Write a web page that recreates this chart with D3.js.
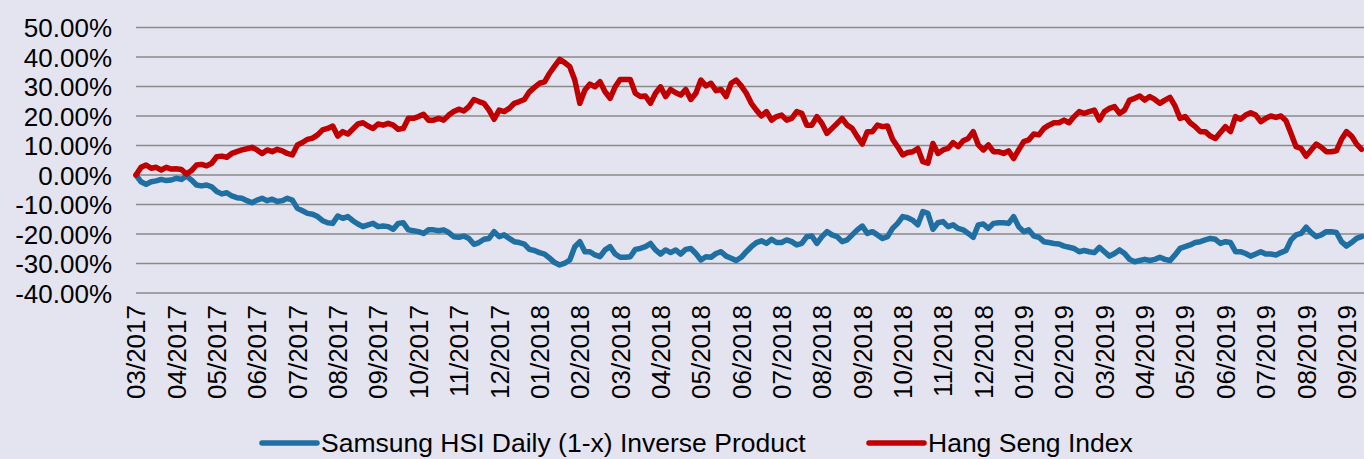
<!DOCTYPE html>
<html><head><meta charset="utf-8">
<script src="https://cdn.jsdelivr.net/npm/d3@7"></script>
<style>
html,body{margin:0;padding:0;background:#E4E4F0;overflow:hidden;}
svg{display:block;font-family:"Liberation Sans",Arial,sans-serif;}
</style>
</head><body>
<svg id="chart" width="1364" height="459"></svg>
<script>
// ---- data ----
const monthLabels = ["03/2017","04/2017","05/2017","06/2017","07/2017","08/2017","09/2017","10/2017","11/2017","12/2017",
  "01/2018","02/2018","03/2018","04/2018","05/2018","06/2018","07/2018","08/2018","09/2018","10/2018","11/2018","12/2018",
  "01/2019","02/2019","03/2019","04/2019","05/2019","06/2019","07/2019","08/2019","09/2019"];
const yTickValues = [-40,-30,-20,-10,0,10,20,30,40,50];
const seriesNames = ["Samsung HSI Daily (1-x) Inverse Product","Hang Seng Index"];
const pointsPerMonth = 8; // samples per month label interval

const inverseProduct = [
  0,-2.3,-3.2,-2.3,-2.0,-1.5,-1.9,-1.7,-1.1,-1.5,
  -0.3,-1.7,-3.4,-3.7,-3.4,-4.0,-5.6,-6.4,-6.0,-7.1,
  -7.7,-7.9,-8.7,-9.4,-8.5,-7.9,-8.7,-8.2,-9.0,-8.7,
  -7.9,-8.5,-11.3,-12.1,-13.0,-13.3,-14.1,-15.5,-16.2,-16.4,
  -13.9,-14.7,-14.1,-15.5,-16.6,-17.5,-16.9,-16.4,-17.5,-17.3,
  -17.5,-18.4,-16.4,-16.2,-18.6,-18.9,-19.2,-19.8,-18.6,-18.6,
  -18.9,-18.6,-19.5,-20.9,-21.1,-20.7,-21.5,-23.5,-22.9,-21.8,
  -21.5,-19.2,-20.9,-20.3,-21.5,-22.6,-22.9,-23.4,-25.2,-25.6,
  -26.3,-26.8,-28.2,-29.7,-30.5,-29.9,-28.8,-24.3,-22.6,-26.0,
  -26.0,-27.1,-27.7,-25.4,-24.3,-26.8,-27.9,-27.9,-27.7,-25.2,
  -24.9,-24.3,-23.2,-25.4,-26.8,-25.4,-26.3,-25.4,-26.8,-25.2,
  -24.9,-26.6,-28.8,-27.7,-27.9,-26.6,-26.0,-27.5,-28.2,-29.0,
  -27.9,-26.0,-24.3,-22.9,-22.3,-23.2,-21.8,-22.9,-22.9,-22.0,
  -22.6,-23.7,-23.2,-20.9,-20.7,-23.2,-20.9,-19.2,-20.3,-20.9,
  -22.6,-22.0,-20.3,-18.6,-17.3,-19.8,-19.2,-20.3,-21.5,-20.9,
  -18.1,-16.4,-14.1,-14.5,-15.3,-16.9,-12.4,-13.0,-18.4,-16.2,
  -15.8,-17.5,-16.9,-18.1,-18.6,-19.8,-21.1,-16.9,-16.6,-18.1,
  -16.4,-16.2,-16.2,-16.4,-14.1,-17.5,-19.2,-18.6,-20.7,-21.1,
  -22.6,-22.9,-23.2,-23.4,-24.1,-24.5,-24.9,-26.0,-25.6,-26.0,
  -26.3,-24.5,-26.0,-27.5,-26.6,-25.4,-26.6,-28.6,-29.4,-29.0,
  -28.6,-29.0,-28.6,-27.9,-28.6,-29.0,-27.1,-24.9,-24.3,-23.7,
  -22.9,-22.6,-22.0,-21.5,-21.8,-23.2,-22.6,-22.9,-26.0,-26.0,
  -26.6,-27.5,-26.8,-26.0,-26.8,-26.8,-27.1,-26.3,-25.6,-22.0,
  -20.3,-19.8,-17.7,-19.5,-20.9,-20.3,-19.2,-19.2,-19.5,-22.6,
  -24.1,-22.9,-21.5,-20.9
];

const hangSeng = [
  0,2.6,3.4,2.3,2.6,1.7,2.6,2.0,2.1,1.9,
  0.3,1.5,3.4,3.6,3.1,4.0,6.2,6.4,6.0,7.3,
  7.9,8.5,8.9,9.4,8.5,7.3,8.5,7.9,8.7,8.2,
  7.3,6.8,10.2,11.0,12.1,12.5,13.6,15.3,15.8,16.6,
  13.2,14.7,13.9,15.6,17.3,17.7,16.6,15.8,17.3,16.9,
  17.5,16.9,15.5,15.8,19.2,19.2,19.8,20.6,18.6,18.6,
  19.2,18.6,20.3,21.5,22.3,21.7,23.2,25.6,24.9,24.3,
  22.0,18.9,22.0,21.5,22.6,24.3,24.9,25.6,28.2,29.7,
  31.1,31.6,34.5,36.9,39.2,38.1,36.7,32.2,24.3,28.8,
  30.8,29.9,31.6,28.2,26.0,29.9,32.4,32.4,32.4,27.7,
  26.6,26.8,24.3,27.7,29.9,26.6,29.0,27.9,27.1,29.0,
  25.6,27.7,32.2,30.2,31.1,28.6,29.0,26.6,31.1,32.2,
  30.2,27.7,24.3,22.0,20.0,21.5,18.6,19.8,20.3,18.6,
  19.2,21.5,20.9,16.9,16.9,19.8,17.5,14.1,15.8,17.5,
  19.2,16.9,15.8,13.0,10.5,14.7,14.7,16.9,16.4,16.6,
  12.1,9.6,6.8,7.6,7.9,9.0,4.5,4.0,10.7,7.3,
  8.5,9.0,11.0,9.6,11.6,12.4,14.7,10.2,8.5,10.2,
  7.9,7.9,7.3,8.2,5.6,8.5,11.3,11.9,13.9,13.6,
  15.8,16.9,17.7,17.7,18.6,17.7,19.8,21.5,20.9,21.5,
  22.0,18.6,21.5,22.6,23.2,20.9,22.0,25.4,26.0,26.8,
  25.4,26.6,25.6,24.3,25.4,26.3,23.4,19.2,19.8,17.7,
  16.4,14.7,14.7,13.2,12.4,14.4,16.4,14.7,19.8,18.9,
  20.3,21.1,20.3,18.1,19.2,20.0,19.5,20.0,18.4,14.1,
  9.6,9.0,6.4,8.5,10.5,9.4,7.9,7.9,8.2,12.1,
  14.7,13.2,10.5,8.7
];

// ---- drawing ----
const colors = ["#1F6FA2", "#C00000"];
const svg = d3.select("#chart");
const plotLeft = 136, plotRight = 1364;

const x = d3.scaleLinear().domain([0, monthLabels.length - 1]).range([136, 1346.5]);
const y = d3.scaleLinear().domain([-40, 50]).range([293, 27.5]);

svg.append("rect").attr("width", 1364).attr("height", 459).attr("fill", "#E4E4F0");

// gridlines
svg.append("g").selectAll("line").data(yTickValues).join("line")
  .attr("x1", plotLeft).attr("x2", plotRight)
  .attr("y1", d => y(d)).attr("y2", d => y(d))
  .attr("stroke", "#8A8A8A").attr("stroke-width", 1.6);

// y axis labels
const yAxis = d3.axisLeft(y).tickValues(yTickValues).tickSize(0).tickPadding(0)
  .tickFormat(d => d.toFixed(2) + "%");
const yg = svg.append("g").attr("transform", "translate(112,0)").call(yAxis);
yg.select(".domain").remove();
yg.selectAll("text").attr("font-size", 26).attr("fill", "#000")
  .attr("font-family", '"Liberation Sans", Arial, sans-serif').attr("dy", "0.36em");

// x axis labels (rotated)
svg.append("g").selectAll("text").data(monthLabels).join("text")
  .attr("transform", (d, i) => `translate(${x(i)},305) rotate(-90)`)
  .attr("text-anchor", "end").attr("dy", "0.36em")
  .attr("font-size", 26).attr("fill", "#000")
  .text(d => d);

// lines
const line = d3.line().x((d, i) => x(i / pointsPerMonth)).y(d => y(d));
[inverseProduct, hangSeng].forEach((s, k) => {
  svg.append("path").datum(s).attr("d", line)
    .attr("fill", "none").attr("stroke", colors[k]).attr("stroke-width", 5.5)
    .attr("stroke-linejoin", "round").attr("stroke-linecap", "round");
});

// legend
const legendItems = [{x: 262, name: seriesNames[0], c: colors[0]}, {x: 869, name: seriesNames[1], c: colors[1]}];
const lg = svg.append("g");
legendItems.forEach(it => {
  lg.append("line").attr("x1", it.x).attr("x2", it.x + 55).attr("y1", 443).attr("y2", 443)
    .attr("stroke", it.c).attr("stroke-width", 5.5).attr("stroke-linecap", "round");
  lg.append("text").attr("x", it.x + 59).attr("y", 442).attr("dy", "0.36em")
    .attr("font-size", 26.5).attr("fill", "#000").text(it.name);
});
</script>
</body></html>
